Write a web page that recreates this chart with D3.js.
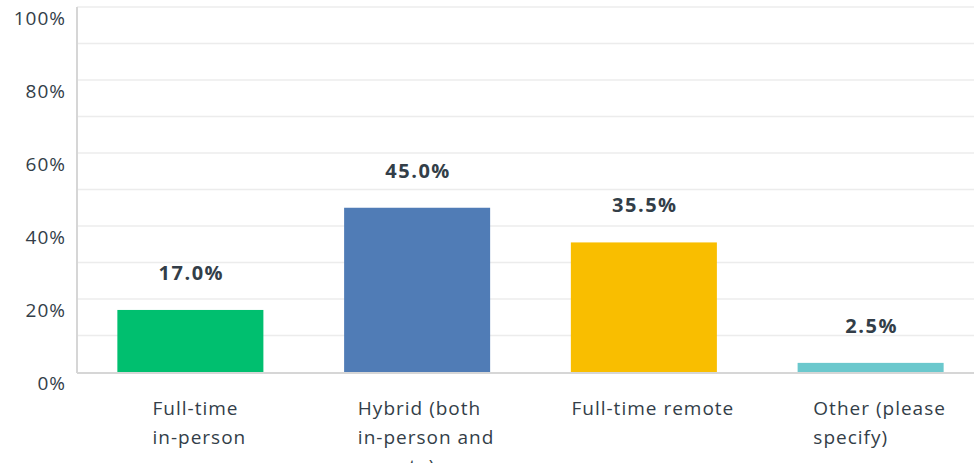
<!DOCTYPE html>
<html>
<head>
<meta charset="utf-8">
<script src="https://cdn.jsdelivr.net/npm/d3@7"></script>
<style>
	body { margin: 0; background: #fff; }
	svg { display: block; font-family: "Open Sans", "Noto Sans", sans-serif; }
	.tick-label { fill: #333e48; font-size: 19px; letter-spacing: 1px; }
	.cat-label { fill: #333e48; font-size: 19px; letter-spacing: 1px; }
	.val-label { fill: #333e48; font-size: 20px; font-weight: 700; letter-spacing: 1.5px; }
</style>
</head>
<body>
<svg id="chart"></svg>
<script>
// data
const categories = ['Full-time in-person', 'Hybrid (both in-person and remote)', 'Full-time remote', 'Other (please specify)'];
const labelLines = [['Full-time', 'in-person'], ['Hybrid (both', 'in-person and', 'remote)'], ['Full-time remote'], ['Other (please', 'specify)']];
const values = [17.0, 45.0, 35.5, 2.5];
const colors = ['#00bf6f', '#507cb6', '#f9be00', '#6bc8cd'];
const yTicks = [0, 20, 40, 60, 80, 100];
const gridTicks = [10, 20, 30, 40, 50, 60, 70, 80, 90, 100];

const width = 974, height = 470;
const margin = {top: 7, left: 77, bottom: 98};

var svg = d3.select('#chart')
	.attr('width', width)
	.attr('height', height);

var x = d3.scaleBand()
	.domain(categories)
	.range([margin.left, 984])
	.paddingInner(0.356)
	.paddingOuter(0.178);

var y = d3.scaleLinear()
	.domain([0, 100])
	.range([height - margin.bottom, margin.top]);

// the original cuts the last label line off at the bottom
svg.append('defs').append('clipPath').attr('id', 'clip')
	.append('rect').attr('x', 0).attr('y', 0).attr('width', width).attr('height', 463);

var g = svg.append('g').attr('clip-path', 'url(#clip)');

// gridlines
g.append('g')
	.selectAll('line')
	.data(gridTicks)
	.enter().append('line')
	.attr('x1', margin.left)
	.attr('x2', width)
	.attr('y1', d => y(d))
	.attr('y2', d => y(d))
	.attr('stroke', '#ececec')
	.attr('stroke-width', 1.5);

// y tick labels (sit a bit below their gridline)
g.append('g')
	.selectAll('text')
	.data(yTicks)
	.enter().append('text')
	.attr('class', 'tick-label')
	.attr('x', 66)
	.attr('y', d => y(d) + 18)
	.attr('text-anchor', 'end')
	.text(d => d + '%');

// bars
g.append('g')
	.selectAll('rect')
	.data(values)
	.enter().append('rect')
	.attr('x', (d, i) => x(categories[i]))
	.attr('y', d => y(d))
	.attr('width', x.bandwidth())
	.attr('height', d => y(0) - y(d))
	.attr('fill', (d, i) => colors[i]);

// axes lines
g.append('line')
	.attr('x1', margin.left).attr('x2', margin.left)
	.attr('y1', margin.top).attr('y2', y(0) + 1)
	.attr('stroke', '#d6d6d6').attr('stroke-width', 2);

g.append('line')
	.attr('x1', margin.left).attr('x2', width)
	.attr('y1', y(0) + 1).attr('y2', y(0) + 1)
	.attr('stroke', '#d6d6d6').attr('stroke-width', 2);

// value labels
g.append('g')
	.selectAll('text')
	.data(values)
	.enter().append('text')
	.attr('class', 'val-label')
	.attr('x', (d, i) => x(categories[i]) + x.bandwidth() / 2 + 1)
	.attr('y', d => y(d) - 30)
	.attr('text-anchor', 'middle')
	.text(d => d.toFixed(1) + '%');

// category labels, left aligned block roughly centred under each bar
var cat = g.append('g')
	.selectAll('text')
	.data(labelLines)
	.enter().append('text')
	.attr('class', 'cat-label');

cat.each(function(lines, i) {
	var t = d3.select(this);
	lines.forEach((l, j) => {
		t.append('tspan')
			.attr('x', 0)
			.attr('y', y(0) + 43 + j * 29)
			.text(l);
	});
	var w = this.getBBox().width;
	var cx = x(categories[i]) + x.bandwidth() / 2 + 9;
	t.selectAll('tspan').attr('x', cx - w / 2);
});
</script>
</body>
</html>
